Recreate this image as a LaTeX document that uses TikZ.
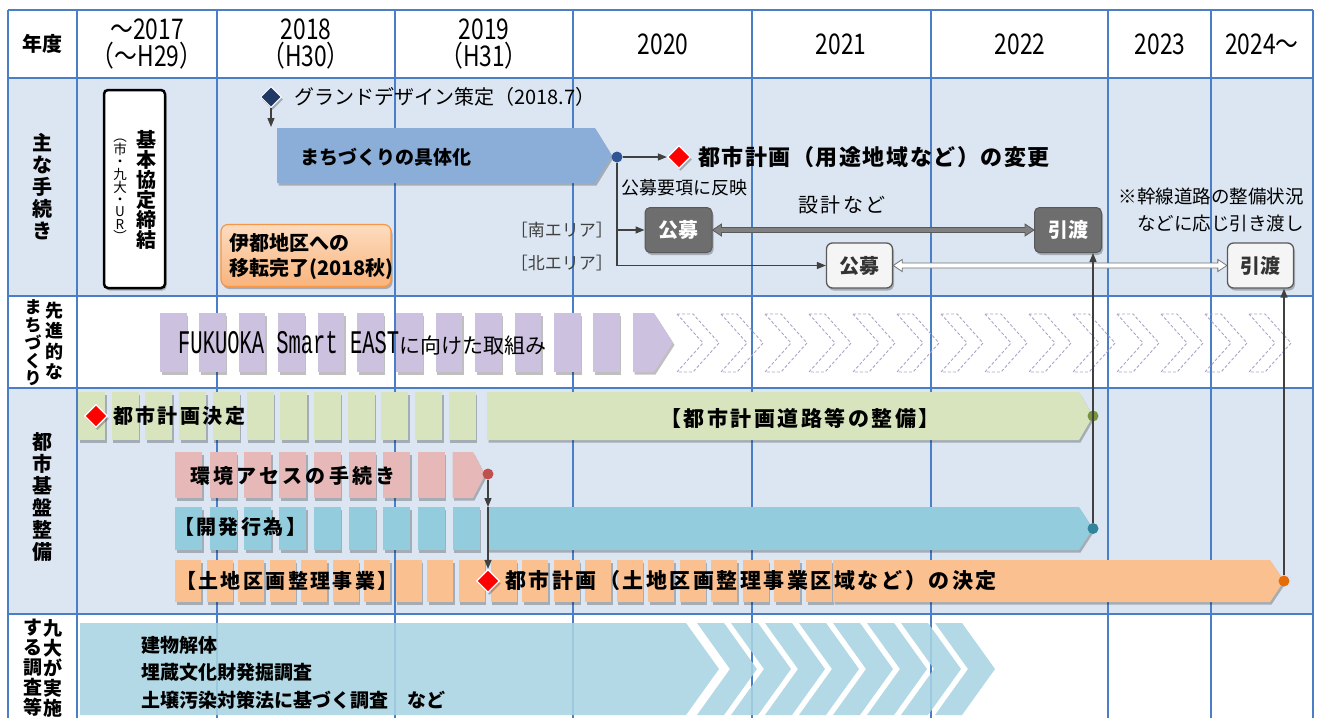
\documentclass[tikz,border=0pt]{standalone}
\usepackage{fontspec}
\setmainfont{Noto Sans CJK JP}
\newfontfamily\jsp[LetterSpace=12]{Noto Sans CJK JP}
\newfontfamily\jspb[LetterSpace=7]{Noto Sans CJK JP}
\newfontfamily\jspc[LetterSpace=16]{Noto Sans CJK JP}
\newfontfamily\monof{Liberation Mono}
\usetikzlibrary{arrows.meta,shapes.geometric,shadows,calc}
\definecolor{gridc}{HTML}{4A7EC7}
\definecolor{rowbg}{HTML}{DCE6F2}
\definecolor{mzblue}{HTML}{8AAED8}
\definecolor{purp}{HTML}{CCC1DE}
\definecolor{purpd}{HTML}{AFA2C8}
\definecolor{grn}{HTML}{D7E4BD}
\definecolor{pnk}{HTML}{E6B9B8}
\definecolor{tea}{HTML}{93CDDD}
\definecolor{org}{HTML}{FAC090}
\definecolor{chev}{HTML}{A8D4E2}
\definecolor{navy}{HTML}{1F3864}
\definecolor{dkgray}{HTML}{6E6E6E}
\definecolor{ltgray}{HTML}{F5F5F5}
\definecolor{dotblue}{HTML}{2F5597}
\definecolor{dotred}{HTML}{C0504D}
\definecolor{dotgrn}{HTML}{77933C}
\definecolor{dottea}{HTML}{31849B}
\definecolor{dotorg}{HTML}{E46C0A}
\definecolor{orglt}{HTML}{FDDCC0}
\definecolor{orgdk}{HTML}{F9B47C}
\definecolor{orgbd}{HTML}{F79646}
\newcommand\hsc[1]{\scalebox{0.8}[1]{#1}}
\newcommand\segrow[7]{\foreach \i in {0,...,#4}{\fill[#7,bshadow] ({#1+#2*\i},#5) rectangle ++(#3,#6);}}
\newcommand\dblarr[4]{\filldraw[fill=#3, draw=#4, line width=0.8] (#1) -- ($(#1)+(9,-6)$) -- ($(#1)+(9,-2.5)$) -- ($(#2)+(-9,-2.5)$) -- ($(#2)+(-9,-6)$) -- (#2) -- ($(#2)+(-9,6)$) -- ($(#2)+(-9,2.5)$) -- ($(#1)+(9,2.5)$) -- ($(#1)+(9,6)$) -- cycle;}
\begin{document}
\begin{tikzpicture}[x=1pt,y=-1pt,
  bshadow/.style={drop shadow={shadow xshift=1.5pt,shadow yshift=-2.5pt,opacity=0.25,fill=black}},
  lbl/.style={inner sep=0pt, align=center, font=\bfseries\fontsize{20}{22}\selectfont},
  hdr/.style={inner sep=0pt, align=center, font=\fontsize{28.5}{27}\selectfont},
  txt/.style={inner sep=0pt, anchor=west},
  arr/.style={draw=black!75, line width=1.3, -{Triangle[length=9pt,width=7pt]}},
  conn/.style={draw=black!75, line width=1.3},
  rdia/.style={diamond, fill=red, draw=white, line width=1.2, minimum size=23pt, inner sep=0pt, bshadow},
  dot/.style={circle, inner sep=0pt, minimum size=11pt},
  dkbox/.style={rounded corners=5pt, fill=dkgray, draw=dkgray!80!black, line width=1, text=white, font=\bfseries\fontsize{20}{22}\selectfont, minimum width=67pt, minimum height=45pt, inner sep=0pt, bshadow},
  ltbox/.style={rounded corners=6pt, fill=ltgray, draw=black!65, line width=1.3, text=black!80, font=\bfseries\fontsize{20}{22}\selectfont, minimum width=66pt, minimum height=45pt, inner sep=0pt, bshadow}
]
\useasboundingbox (0,0) rectangle (1321,718);
\fill[white] (0,0) rectangle (1321,718);
% row backgrounds
\fill[rowbg] (8,78) rectangle (1313,296);
\fill[rowbg] (8,388) rectangle (1313,614);
% grid
\foreach \x in {77,217,395,573,752,931,1108,1211} \draw[gridc, line width=1.5] (\x,10) -- (\x,718);
\foreach \y in {10,78,296,388,614} \draw[gridc, line width=2.5] (8,\y) -- (1313,\y);
\draw[gridc, line width=2.5] (8,10) -- (8,718) (1313,10) -- (1313,718);
% header
\node[lbl] (h0) at (42,44) {年度};
\node[hdr] (h1) at (147,44) {\hsc{～2017}\\\hsc{（～H29）}};
\node[hdr] (h2) at (306,44) {\hsc{2018}\\\hsc{（H30）}};
\node[hdr] (h3) at (484,44) {\hsc{2019}\\\hsc{（H31）}};
\node[hdr] (h4) at (663,44) {\hsc{2020}};
\node[hdr] (h5) at (841,44) {\hsc{2021}};
\node[hdr] (h6) at (1020,44) {\hsc{2022}};
\node[hdr] (h7) at (1160,44) {\hsc{2023}};
\node[hdr] (h8) at (1262,44) {\hsc{2024～}};
% row labels
\node[lbl] (r1) at (42,187) {主\\な\\手\\続\\き};
\node[lbl, font=\bfseries\fontsize{18}{20.5}\selectfont] (r2a) at (54,341) {先\\進\\的\\な};
\node[lbl, font=\bfseries\fontsize{17}{17.8}\selectfont] (r2b) at (33,343) {ま\\ち\\づ\\く\\り};
\node[lbl] (r3) at (42,497) {都\\市\\基\\盤\\整\\備};
\node[lbl, font=\bfseries\fontsize{19}{20}\selectfont] (r4a) at (53,668) {九\\大\\が\\実\\施};
\node[lbl, font=\bfseries\fontsize{19}{20}\selectfont] (r4b) at (33,668) {す\\る\\調\\査\\等};
% row 1
\node[draw=black, line width=2.5, rounded corners=4pt, minimum width=61pt, minimum height=198pt, fill=white, bshadow] (kbox) at (134.5,189) {};
\node[lbl, font=\bfseries\fontsize{20}{20}\selectfont] (kbt) at (146,190) {基\\本\\協\\定\\締\\結};
\node[lbl, font=\fontsize{13.5}{12.2}\selectfont] (kbs) at (120,190) {︵\\市\\・\\九\\大\\・\\U\\R\\︶};
\node[diamond, fill=navy, draw=white, line width=1, minimum size=21pt, inner sep=0pt, bshadow] (gd) at (271,97) {};
\node[txt, font=\fontsize{20}{22}\selectfont] (gdt) at (294,97) {グランドデザイン策定（2018.7）};
\coordinate (mzt) at (271,127);
\draw[arr] (gd.south) -- (mzt);
\fill[mzblue, bshadow] (277,128) -- (595,128) -- (612,155.5) -- (595,183) -- (277,183) -- cycle;
\node[txt, font=\bfseries\fontsize{19}{20}\selectfont] (mzl) at (300,157) {まちづくりの具体化};
\node[dot, fill=dotblue] (d1) at (617,157) {};
\node[rdia] (rd1) at (679,157) {};
\draw[arr] (d1) -- (rd1);
\node[txt, font=\jspb\bfseries\fontsize{22}{24}\selectfont] (cp1) at (698,157) {都市計画（用途地域など）の変更};
\node[txt, font=\fontsize{18}{20}\selectfont] (hn) at (621,188) {公募要項に反映};
\node[dkbox] (kb1) at (678.5,230) {公募};
\node[dkbox] (kb3) at (1068,230) {引渡};
\node[ltbox] (kb2) at (859.5,265.5) {公募};
\node[ltbox] (kb4) at (1260.5,265.5) {引渡};
\coordinate (bs) at (617,230);
\coordinate (bn) at (617,265.5);
\draw[conn] (d1) -- (bn);
\draw[arr] (bs) -- (kb1);
\draw[arr] (bn) -- (kb2);
\node[txt, anchor=east, font=\fontsize{17}{18}\selectfont, text=black!75] (sa) at (613,230) {［南エリア］};
\node[txt, anchor=east, font=\fontsize{17}{18}\selectfont, text=black!75] (na) at (613,263) {［北エリア］};
\dblarr{kb1.east}{kb3.west}{black!50}{black!65}
\dblarr{kb2.east}{kb4.west}{white}{black!55}
\node[font=\jsp\fontsize{20}{22}\selectfont, inner sep=0pt] (sk) at (842,205) {設計など};
\node[anchor=east, align=right, inner sep=0pt, font=\fontsize{18.5}{27}\selectfont] (note) at (1304,210) {※幹線道路の整備状況\\などに応じ引き渡し};
\node[rounded corners=7pt, draw=orgbd, line width=1.2, top color=orglt, bottom color=orgdk, minimum width=170pt, minimum height=62pt, bshadow] (ito) at (306,255.5) {};
\node[txt, align=left, font=\bfseries\fontsize{20}{25}\selectfont] (itot) at (229,256) {伊都地区への\\移転完了(2018秋)};
% row 2
\segrow{160}{39.4}{26.5}{11}{313}{59}{purp}
\fill[purp,bshadow] (633,313) -- (654,313) -- (673,342.5) -- (654,372) -- (633,372) -- cycle;
\foreach \k in {0,...,13}{\draw[purpd, dash pattern=on 3pt off 2pt, line width=0.9] ({677+44*\k},314) -- ++(16,0) -- ++(26,29) -- ++(-26,29) -- ++(-16,0) -- ++(26,-29) -- cycle;}
\node[txt] (fse) at (178,343) {\scalebox{0.62}[1]{\monof\fontsize{33}{33}\selectfont FUKUOKA Smart EAST}\fontsize{21}{22}\selectfont に向けた取組み};
% row 3 green
\segrow{78}{33.7}{27}{11}{392}{48}{grn}
\fill[grn,bshadow] (487,392) -- (1079,392) -- (1093,416) -- (1079,440) -- (487,440) -- cycle;
\node[rdia] (rd2) at (96,416) {};
\node[txt, font=\jsp\bfseries\fontsize{20}{22}\selectfont] (cpd) at (113,416) {都市計画決定};
\node[txt, font=\jsp\bfseries\fontsize{21}{22}\selectfont] (cpr) at (660,418) {【都市計画道路等の整備】};
\node[dot, fill=dotgrn] (dg) at (1093,416) {};
% pink
\segrow{175}{34.7}{27}{7}{452}{46}{pnk}
\fill[pnk,bshadow] (452.6,452) -- (473,452) -- (485,475) -- (473,498) -- (452.6,498) -- cycle;
\node[txt, font=\jspc\bfseries\fontsize{20}{22}\selectfont] (env) at (190,476) {環境アセスの手続き};
\node[dot, fill=dotred] (dr) at (488,474) {};
% teal
\segrow{175}{34.7}{27}{8}{507}{43}{tea}
\fill[tea,bshadow] (487,507) -- (1079,507) -- (1093,528.5) -- (1079,550) -- (487,550) -- cycle;
\node[txt, font=\jsp\bfseries\fontsize{20}{22}\selectfont] (kai) at (174,527) {【開発行為】};
\node[dot, fill=dottea] (dt) at (1093,528.5) {};
% orange
\segrow{175}{31.55}{26}{20}{560}{42}{org}
\fill[org,bshadow] (833,560) -- (1270,560) -- (1284,581) -- (1270,602) -- (833,602) -- cycle;
\node[txt, font=\jsp\bfseries\fontsize{20}{22}\selectfont] (tk) at (176,581) {【土地区画整理事業】};
\node[rdia] (rd3) at (488,581) {};
\node[txt, font=\jsp\bfseries\fontsize{21}{22}\selectfont] (tkd) at (505,581) {都市計画（土地区画整理事業区域など）の決定};
\node[dot, fill=dotorg] (dor) at (1284,581) {};
% connectors row 3
\coordinate (mid) at (488,507);
\draw[arr] (dr) -- (mid);
\draw[arr] (mid) -- (rd3);
\draw[arr] (dt) -- (dt |- kb3.south);
\draw[arr] (dor) -- (dor |- kb4.south);
% row 4
\fill[chev, opacity=0.88] (80,623) -- (686,623) -- (719,669) -- (686,715) -- (80,715) -- cycle;
\foreach \k in {0,...,7}{\fill[chev, opacity=0.88] ({697+34*\k},623) -- ++(27,0) -- ++(33,46) -- ++(-33,46) -- ++(-27,0) -- ++(33,-46) -- cycle;}
\node[txt, font=\bfseries\fontsize{19}{20}\selectfont] (q1) at (141,645) {建物解体};
\node[txt, font=\bfseries\fontsize{19}{20}\selectfont] (q2) at (141,672) {埋蔵文化財発掘調査};
\node[txt, font=\bfseries\fontsize{19}{20}\selectfont] (q3) at (141,700) {土壌汚染対策法に基づく調査　など};
\end{tikzpicture}
\end{document}
